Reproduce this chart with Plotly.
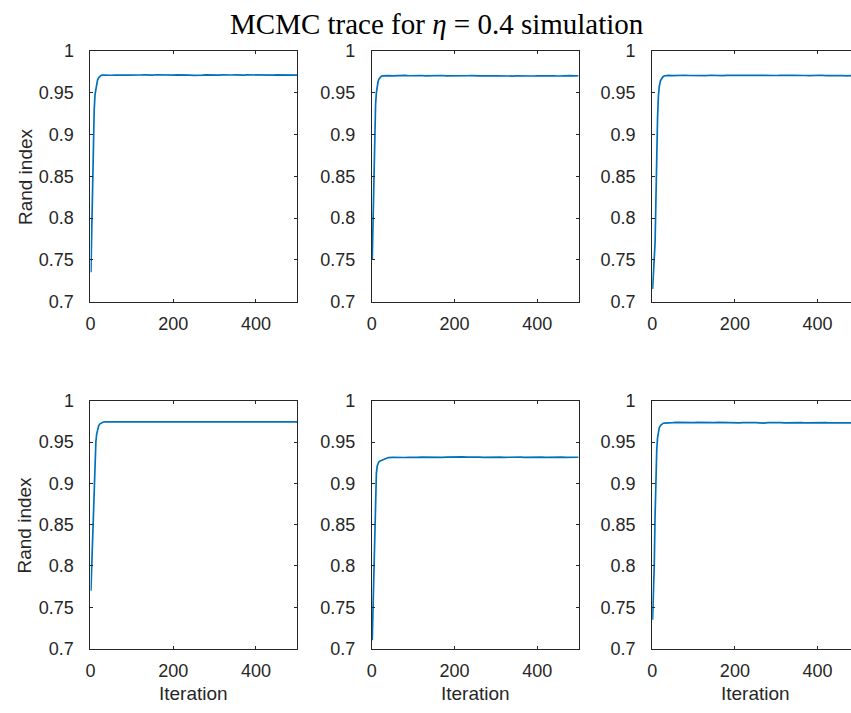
import plotly.graph_objects as go

# ---------------- data ----------------
iterations = [1, 3, 5, 7, 9, 11, 13, 15, 17, 20, 23, 26, 30, 35,
              40, 50, 60, 70, 80, 90, 100, 110, 120, 130,
              140, 150, 160, 170, 180, 190, 200, 210, 220, 230,
              240, 250, 260, 270, 280, 290, 300, 310, 320, 330,
              340, 350, 360, 370, 380, 390, 400, 410, 420, 430,
              440, 450, 460, 470, 480, 490, 500]

rand_index_1 = [0.735, 0.790, 0.850, 0.900, 0.930, 0.948, 0.956, 0.961, 0.965, 0.968, 0.9700, 0.9708, 0.9711, 0.9709,
                0.9712, 0.9708, 0.9711, 0.9714, 0.9709, 0.9710, 0.9713, 0.9707, 0.9711, 0.9712,
                0.9709, 0.9710, 0.9714, 0.9711, 0.9708, 0.9712, 0.9710, 0.9713, 0.9709, 0.9711,
                0.9710, 0.9707, 0.9712, 0.9710, 0.9713, 0.9709, 0.9711, 0.9710, 0.9712, 0.9708,
                0.9711, 0.9713, 0.9709, 0.9710, 0.9712, 0.9711, 0.9708, 0.9710, 0.9713, 0.9711,
                0.9709, 0.9712, 0.9710, 0.9711, 0.9708, 0.9712, 0.9710]

rand_index_2 = [0.750, 0.800, 0.860, 0.905, 0.935, 0.950, 0.958, 0.963, 0.966, 0.968, 0.9695, 0.9701, 0.9704, 0.9702,
                0.9704, 0.9701, 0.9705, 0.9703, 0.9706, 0.9702, 0.9704, 0.9703, 0.9705, 0.9701,
                0.9704, 0.9702, 0.9703, 0.9705, 0.9701, 0.9703, 0.9702, 0.9704, 0.9700, 0.9702,
                0.9703, 0.9699, 0.9701, 0.9702, 0.9698, 0.9700, 0.9702, 0.9699, 0.9701, 0.9700,
                0.9698, 0.9701, 0.9699, 0.9700, 0.9702, 0.9699, 0.9701, 0.9703, 0.9700, 0.9702,
                0.9701, 0.9699, 0.9702, 0.9700, 0.9703, 0.9701, 0.9702]

rand_index_3 = [0.715, 0.730, 0.750, 0.770, 0.820, 0.880, 0.920, 0.945, 0.957, 0.964, 0.967, 0.969, 0.9702, 0.9705,
                0.9706, 0.9703, 0.9707, 0.9704, 0.9708, 0.9705, 0.9703, 0.9707, 0.9706, 0.9704,
                0.9708, 0.9705, 0.9706, 0.9703, 0.9707, 0.9705, 0.9709, 0.9704, 0.9706, 0.9708,
                0.9705, 0.9703, 0.9707, 0.9706, 0.9704, 0.9708, 0.9705, 0.9707, 0.9703, 0.9706,
                0.9708, 0.9704, 0.9706, 0.9705, 0.9703, 0.9707, 0.9705, 0.9708, 0.9704, 0.9706,
                0.9703, 0.9707, 0.9705, 0.9701, 0.9706, 0.9704, 0.9707]

rand_index_4 = [0.770, 0.800, 0.840, 0.880, 0.910, 0.935, 0.950, 0.960, 0.966, 0.970, 0.972, 0.9733, 0.9740, 0.9743,
                0.9743, 0.9746, 0.9744, 0.9747, 0.9745, 0.9743, 0.9746, 0.9744, 0.9748, 0.9745,
                0.9743, 0.9746, 0.9744, 0.9747, 0.9745, 0.9748, 0.9746, 0.9744, 0.9747, 0.9745,
                0.9749, 0.9746, 0.9748, 0.9745, 0.9747, 0.9744, 0.9746, 0.9743, 0.9745, 0.9747,
                0.9744, 0.9746, 0.9743, 0.9745, 0.9747, 0.9744, 0.9746, 0.9745, 0.9743, 0.9746,
                0.9744, 0.9747, 0.9745, 0.9743, 0.9746, 0.9744, 0.9745]

rand_index_5 = [0.710, 0.750, 0.800, 0.850, 0.890, 0.912, 0.921, 0.925, 0.926, 0.927, 0.9275, 0.928, 0.929, 0.930,
                0.9312, 0.9314, 0.9311, 0.9315, 0.9313, 0.9316, 0.9312, 0.9314, 0.9317, 0.9315,
                0.9313, 0.9316, 0.9318, 0.9315, 0.9317, 0.9319, 0.9316, 0.9318, 0.9320, 0.9317,
                0.9319, 0.9316, 0.9318, 0.9315, 0.9317, 0.9319, 0.9316, 0.9318, 0.9315, 0.9317,
                0.9314, 0.9316, 0.9318, 0.9315, 0.9317, 0.9314, 0.9316, 0.9318, 0.9315, 0.9317,
                0.9314, 0.9316, 0.9318, 0.9315, 0.9317, 0.9314, 0.9316]

rand_index_6 = [0.735, 0.760, 0.800, 0.860, 0.910, 0.940, 0.955, 0.963, 0.967, 0.970, 0.9715, 0.9725, 0.9730, 0.9733,
                0.9737, 0.9734, 0.9738, 0.9735, 0.9733, 0.9736, 0.9734, 0.9737, 0.9735, 0.9733,
                0.9736, 0.9734, 0.9737, 0.9735, 0.9738, 0.9734, 0.9736, 0.9733, 0.9735, 0.9737,
                0.9734, 0.9736, 0.9733, 0.9728, 0.9734, 0.9736, 0.9733, 0.9735, 0.9732, 0.9734,
                0.9736, 0.9733, 0.9735, 0.9732, 0.9734, 0.9733, 0.9735, 0.9732, 0.9734, 0.9733,
                0.9735, 0.9732, 0.9734, 0.9733, 0.9731, 0.9734, 0.9732]

series = [rand_index_1, rand_index_2, rand_index_3, rand_index_4, rand_index_5, rand_index_6]

x_ticks = [0, 200, 400]
y_ticks = [0.7, 0.75, 0.8, 0.85, 0.9, 0.95, 1.0]
y_tick_labels = ["0.7", "0.75", "0.8", "0.85", "0.9", "0.95", "1"]

title_text = "MCMC trace for <i>η</i> = 0.4 simulation"
ylabel_text = "Rand index"
xlabel_text = "Iteration"

# ---------------- layout geometry ----------------
W, H = 851, 713
col_px = [(86, 294), (369, 577), (651, 851)]
row_px = [(42, 300), (402, 657)]
px_per_iter = (294 - 86) / 500.0

LINE = "#0072BD"
AX = "#262626"
FONT = "Liberation Sans, Arial, sans-serif"
TICK_SIZE = 18
LABEL_SIZE = 19

fig = go.Figure()
layout = dict(
    width=W, height=H,
    margin=dict(l=0, r=0, t=0, b=0),
    paper_bgcolor="white", plot_bgcolor="white",
    showlegend=False,
    font=dict(family=FONT, color=AX, size=TICK_SIZE),
)

annotations = []
for i, vals in enumerate(series):
    r, c = divmod(i, 3)
    n = i + 1
    xa = "x" if n == 1 else f"x{n}"
    ya = "y" if n == 1 else f"y{n}"
    fig.add_trace(go.Scatter(x=iterations, y=vals, mode="lines",
                             line=dict(color=LINE, width=1.7),
                             xaxis=xa, yaxis=ya, hoverinfo="skip"))
    x0, x1 = col_px[c]
    y0, y1 = row_px[r]
    xmax = (x1 - x0) / px_per_iter
    last_col = (c == 2)
    layout["xaxis" if n == 1 else f"xaxis{n}"] = dict(
        domain=[x0 / W, x1 / W], anchor=ya, range=[0, xmax],
        tickvals=x_ticks, ticks="inside", ticklen=3, tickwidth=1, tickcolor=AX,
        showline=True, linecolor=AX, linewidth=1, mirror="ticks",
        showgrid=False, zeroline=False, ticklabelstandoff=6,
        tickfont=dict(size=TICK_SIZE, family=FONT, color=AX),
    )
    layout["yaxis" if n == 1 else f"yaxis{n}"] = dict(
        domain=[1 - y1 / H, 1 - y0 / H], anchor=xa, range=[0.7, 1.0],
        tickvals=y_ticks, ticktext=y_tick_labels,
        ticks="inside", ticklen=3, tickwidth=1, tickcolor=AX,
        showline=True, linecolor=AX, linewidth=1,
        mirror=False if last_col else "ticks",
        showgrid=False, zeroline=False, ticklabelstandoff=12,
        tickfont=dict(size=TICK_SIZE, family=FONT, color=AX),
    )
    if c == 0:
        annotations.append(dict(text=ylabel_text, textangle=-90, xref="paper", yref="paper",
                                x=20 / W, y=1 - (y0 + y1) / 2 / H, showarrow=False,
                                xanchor="center", yanchor="middle",
                                font=dict(size=LABEL_SIZE, family=FONT, color=AX)))
    if r == 1:
        annotations.append(dict(text=xlabel_text, xref="paper", yref="paper",
                                x=((x0 + (x0 + 500 * px_per_iter)) / 2) / W, y=1 - 703 / H,
                                showarrow=False, xanchor="center", yanchor="middle",
                                font=dict(size=LABEL_SIZE, family=FONT, color=AX)))

annotations.append(dict(text=title_text, xref="paper", yref="paper", x=435 / W, y=1 - 14 / H,
                        showarrow=False, xanchor="center", yanchor="middle",
                        font=dict(size=29, family="Liberation Serif, Times New Roman, serif", color="black")))
layout["annotations"] = annotations
fig.update_layout(**layout)

fig.write_html("out.html", config={"displayModeBar": False},
               post_script="document.body.style.margin='0';document.body.style.overflow='hidden';")
